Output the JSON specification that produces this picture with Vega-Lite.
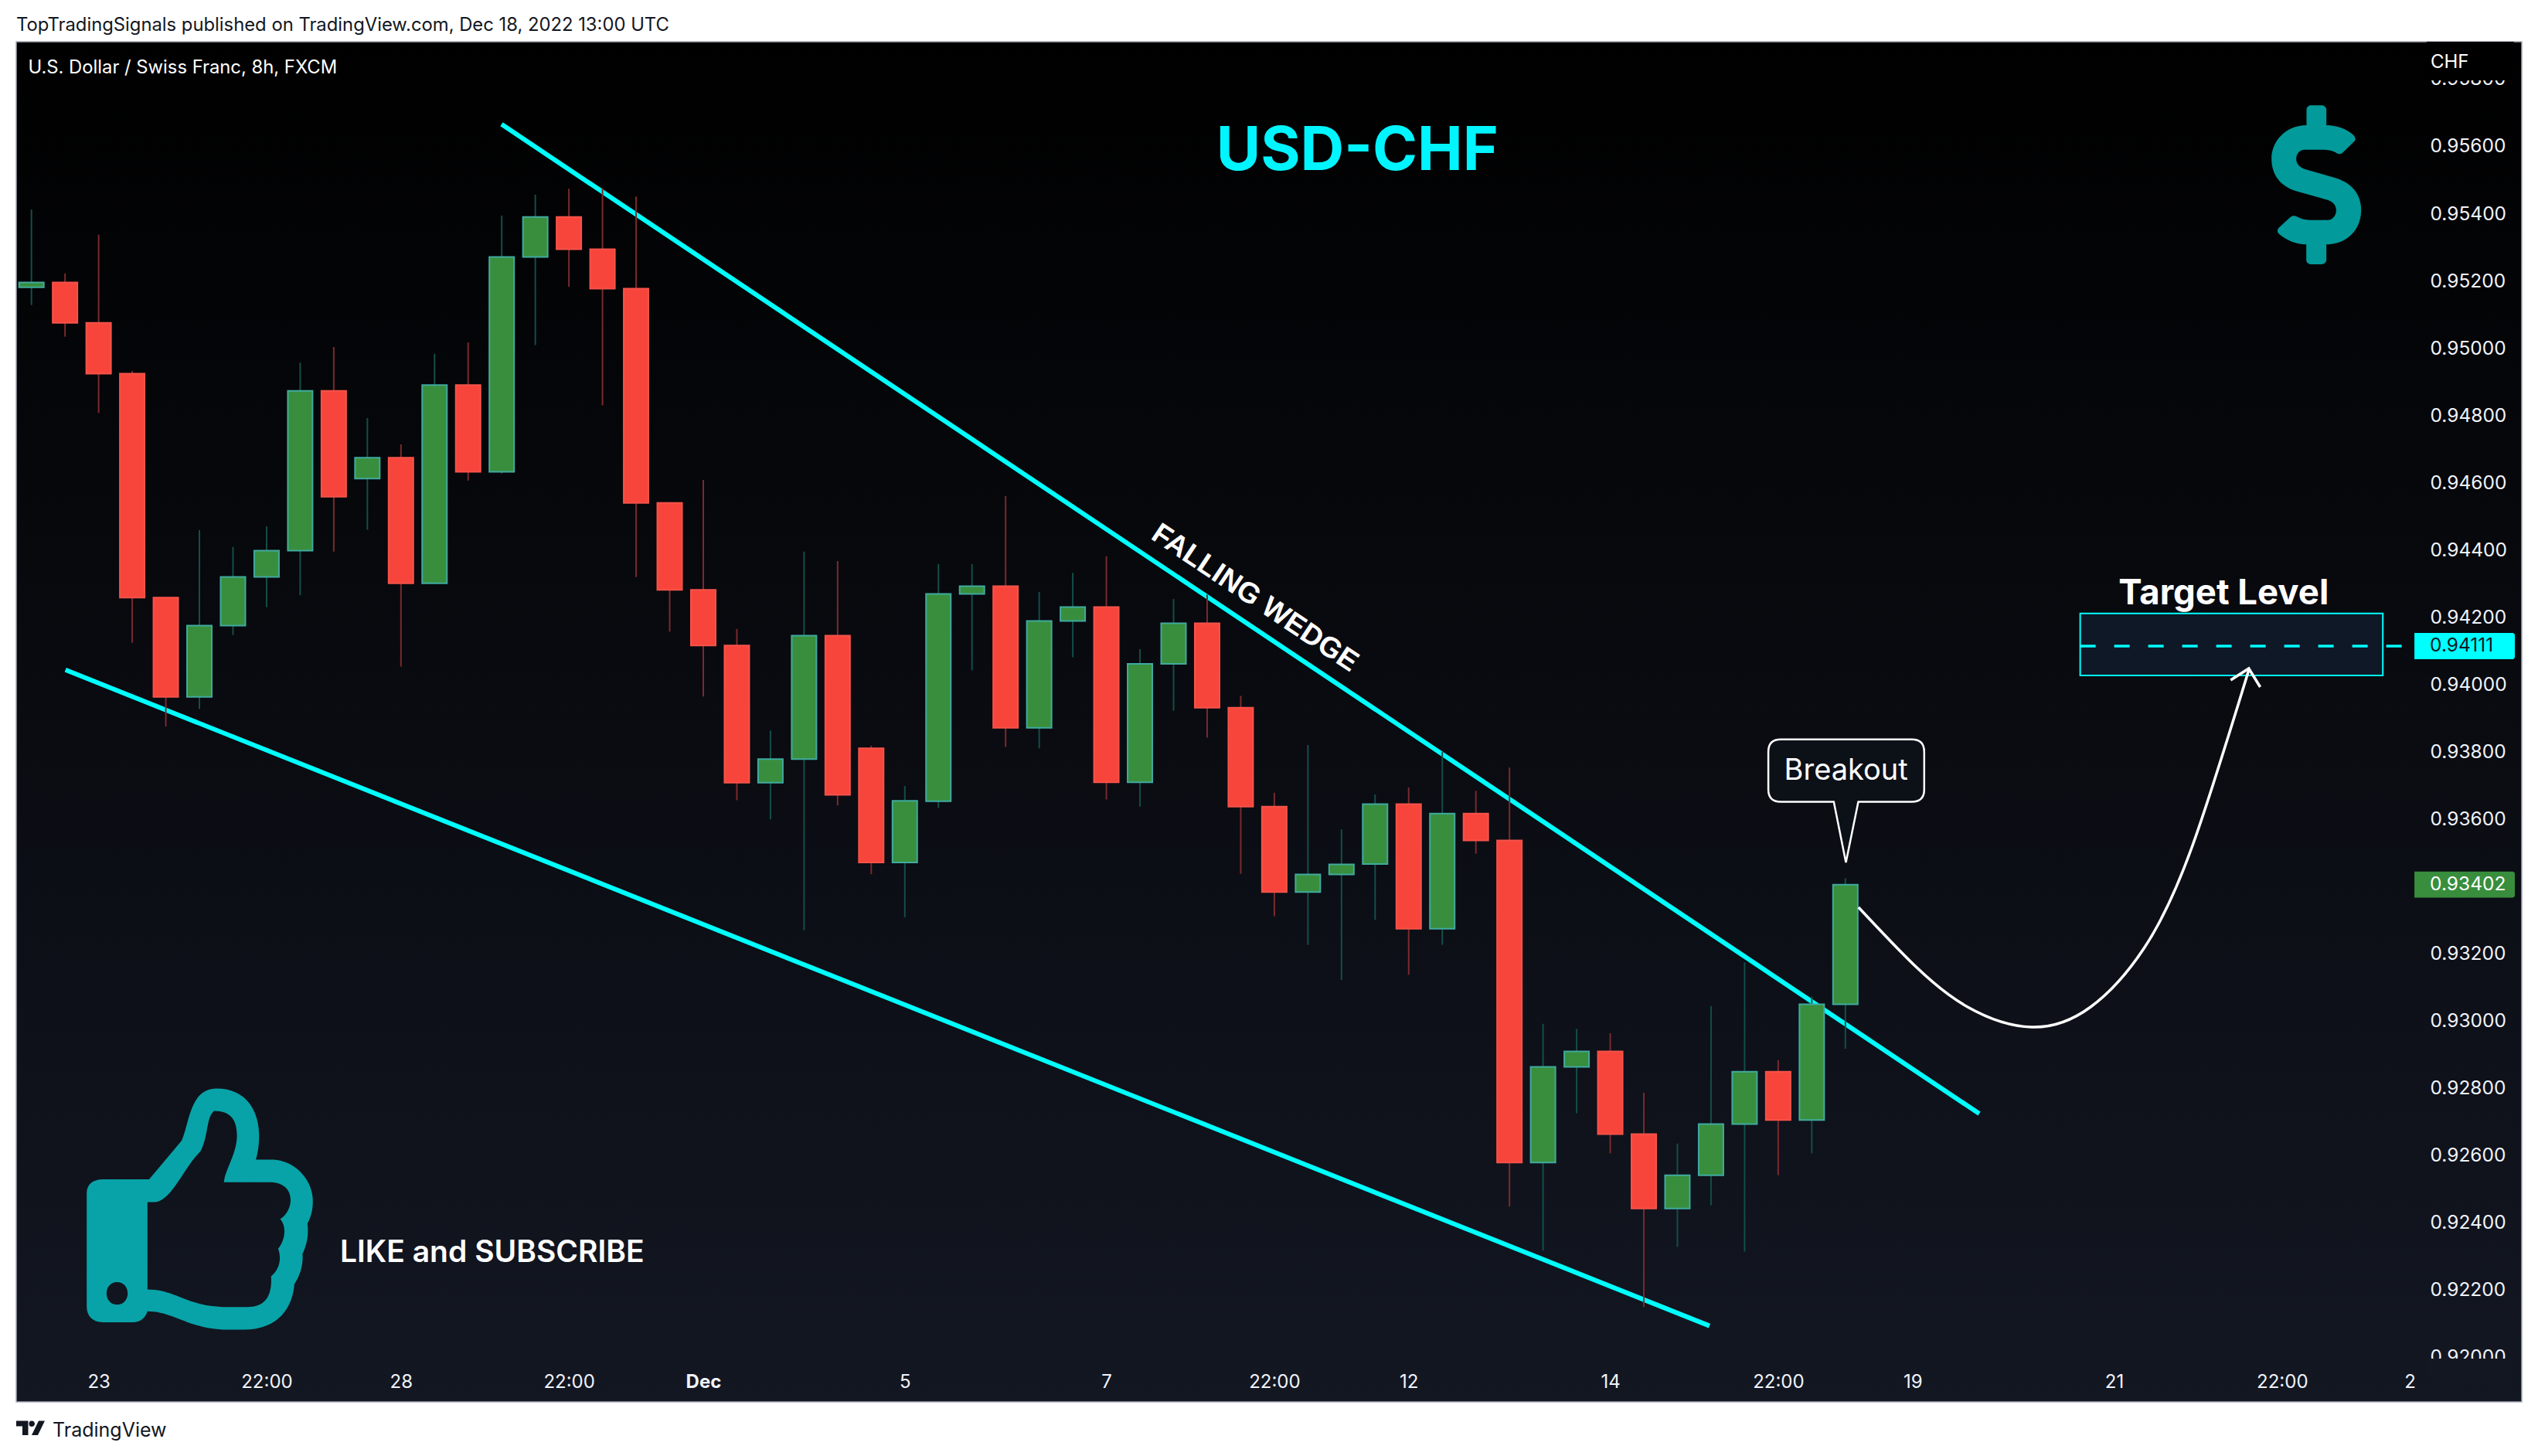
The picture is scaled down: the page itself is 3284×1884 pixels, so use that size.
{
"$schema":"https://vega.github.io/schema/vega-lite/v6.json",
"background":"#ffffff",
"autosize":{"type":"none"},
"padding":{"left":21,"top":54,"right":21,"bottom":70},
"width":3242,
"height":1760,
"title":{"text":"TopTradingSignals published on TradingView.com, Dec 18, 2022 13:00 UTC","anchor":"start","frame":"group","font":"Inter","fontSize":23.8,"fontWeight":400,"color":"#131722","offset":9},
"config":{"view":{"stroke":null}},
"view":{"stroke":"#a6a9b4","strokeWidth":1.5,"fill":{"gradient":"linear","x1":0,"y1":0,"x2":0,"y2":1,"stops":[{"offset":0,"color":"#000000"},{"offset":1,"color":"#131722"}]}},
"datasets":{
"candles":[
{"x":0,"open":0.95178,"high":0.95409,"low":0.95125,"close":0.95192,"dir":"up"},
{"x":1,"open":0.95192,"high":0.95219,"low":0.95031,"close":0.95072,"dir":"down"},
{"x":2,"open":0.95072,"high":0.95334,"low":0.94804,"close":0.94921,"dir":"down"},
{"x":3,"open":0.94921,"high":0.94929,"low":0.94121,"close":0.94255,"dir":"down"},
{"x":4,"open":0.94255,"high":0.94256,"low":0.93872,"close":0.9396,"dir":"down"},
{"x":5,"open":0.9396,"high":0.94456,"low":0.93924,"close":0.94172,"dir":"up"},
{"x":6,"open":0.94172,"high":0.94406,"low":0.94144,"close":0.94317,"dir":"up"},
{"x":7,"open":0.94317,"high":0.94467,"low":0.94227,"close":0.94395,"dir":"up"},
{"x":8,"open":0.94395,"high":0.94954,"low":0.94262,"close":0.9487,"dir":"up"},
{"x":9,"open":0.9487,"high":0.95,"low":0.94392,"close":0.94555,"dir":"down"},
{"x":10,"open":0.94609,"high":0.94789,"low":0.94457,"close":0.94671,"dir":"up"},
{"x":11,"open":0.94671,"high":0.94711,"low":0.9405,"close":0.94298,"dir":"down"},
{"x":12,"open":0.94298,"high":0.9498,"low":0.94298,"close":0.94887,"dir":"up"},
{"x":13,"open":0.94887,"high":0.95014,"low":0.94603,"close":0.94629,"dir":"down"},
{"x":14,"open":0.94629,"high":0.95391,"low":0.94624,"close":0.95268,"dir":"up"},
{"x":15,"open":0.95268,"high":0.95453,"low":0.95006,"close":0.95387,"dir":"up"},
{"x":16,"open":0.95387,"high":0.95471,"low":0.95179,"close":0.95291,"dir":"down"},
{"x":17,"open":0.95291,"high":0.95473,"low":0.94827,"close":0.95174,"dir":"down"},
{"x":18,"open":0.95174,"high":0.95448,"low":0.94316,"close":0.94537,"dir":"down"},
{"x":19,"open":0.94537,"high":0.94539,"low":0.94154,"close":0.94278,"dir":"down"},
{"x":20,"open":0.94278,"high":0.94605,"low":0.93961,"close":0.94113,"dir":"down"},
{"x":21,"open":0.94113,"high":0.94162,"low":0.93653,"close":0.93705,"dir":"down"},
{"x":22,"open":0.93705,"high":0.9386,"low":0.93596,"close":0.93775,"dir":"up"},
{"x":23,"open":0.93775,"high":0.94392,"low":0.93266,"close":0.94142,"dir":"up"},
{"x":24,"open":0.94142,"high":0.94364,"low":0.93637,"close":0.93669,"dir":"down"},
{"x":25,"open":0.93807,"high":0.93815,"low":0.93433,"close":0.93468,"dir":"down"},
{"x":26,"open":0.93468,"high":0.93695,"low":0.93305,"close":0.93651,"dir":"up"},
{"x":27,"open":0.9365,"high":0.94355,"low":0.9363,"close":0.94266,"dir":"up"},
{"x":28,"open":0.94266,"high":0.94355,"low":0.94039,"close":0.94289,"dir":"up"},
{"x":29,"open":0.94289,"high":0.94557,"low":0.93811,"close":0.93868,"dir":"down"},
{"x":30,"open":0.93868,"high":0.94272,"low":0.93807,"close":0.94186,"dir":"up"},
{"x":31,"open":0.94186,"high":0.94329,"low":0.94078,"close":0.94227,"dir":"up"},
{"x":32,"open":0.94227,"high":0.94378,"low":0.93655,"close":0.93706,"dir":"down"},
{"x":33,"open":0.93706,"high":0.94102,"low":0.93634,"close":0.94058,"dir":"up"},
{"x":34,"open":0.94058,"high":0.94251,"low":0.93919,"close":0.94179,"dir":"up"},
{"x":35,"open":0.94179,"high":0.94264,"low":0.93839,"close":0.93928,"dir":"down"},
{"x":36,"open":0.93928,"high":0.93963,"low":0.93434,"close":0.93634,"dir":"down"},
{"x":37,"open":0.93634,"high":0.93675,"low":0.93308,"close":0.9338,"dir":"down"},
{"x":38,"open":0.9338,"high":0.93817,"low":0.93223,"close":0.93432,"dir":"up"},
{"x":39,"open":0.93432,"high":0.93566,"low":0.93119,"close":0.93462,"dir":"up"},
{"x":40,"open":0.93463,"high":0.9367,"low":0.93297,"close":0.93641,"dir":"up"},
{"x":41,"open":0.93641,"high":0.93691,"low":0.93134,"close":0.93271,"dir":"down"},
{"x":42,"open":0.93271,"high":0.93797,"low":0.93223,"close":0.93613,"dir":"up"},
{"x":43,"open":0.93613,"high":0.93681,"low":0.93494,"close":0.93533,"dir":"down"},
{"x":44,"open":0.93533,"high":0.9375,"low":0.92445,"close":0.92576,"dir":"down"},
{"x":45,"open":0.92576,"high":0.92988,"low":0.92314,"close":0.9286,"dir":"up"},
{"x":46,"open":0.9286,"high":0.92973,"low":0.92722,"close":0.92906,"dir":"up"},
{"x":47,"open":0.92906,"high":0.9296,"low":0.92603,"close":0.9266,"dir":"down"},
{"x":48,"open":0.9266,"high":0.92783,"low":0.92146,"close":0.92439,"dir":"down"},
{"x":49,"open":0.92439,"high":0.92632,"low":0.92325,"close":0.92538,"dir":"up"},
{"x":50,"open":0.92538,"high":0.93041,"low":0.92449,"close":0.9269,"dir":"up"},
{"x":51,"open":0.9269,"high":0.93171,"low":0.92311,"close":0.92846,"dir":"up"},
{"x":52,"open":0.92846,"high":0.9288,"low":0.92538,"close":0.92702,"dir":"down"},
{"x":53,"open":0.92702,"high":0.93069,"low":0.92603,"close":0.93046,"dir":"up"},
{"x":54,"open":0.93046,"high":0.93421,"low":0.92914,"close":0.93402,"dir":"up"}
],
"wedge":[
{"line":"upper","x":13.995,"y":0.956624},{"line":"upper","x":57.985,"y":0.927211},
{"line":"lower","x":1.013,"y":0.940403},{"line":"lower","x":49.955,"y":0.920902}
],
"path":[
{"x":54.39,"y":0.933345},{"x":56.03,"y":0.931645},{"x":57.64,"y":0.930382},{"x":59.55,"y":0.929784},{"x":61.3,"y":0.930382},{"x":62.89,"y":0.932128},{"x":64.31,"y":0.935114},{"x":66.01,"y":0.940399}
]
},
"encoding":{
"x":{"field":"x","type":"quantitative","scale":{"domain":[-0.4532,74.136],"nice":false,"zero":false,"padding":0},
"axis":{"title":null,"orient":"bottom","offset":-38,"domain":false,"ticks":false,"grid":false,"labelPadding":0,"labelFont":"Inter","labelFontSize":24,"labelColor":"#f0f3fa","labelOverlap":false,"labelBound":false,"labelFlush":false,"zindex":1,
"values":[2,7,11,16,20,26,32,37,41,47,52,56,62,67,70.8],
"labelExpr":"{'2':'23','7':'22:00','11':'28','16':'22:00','20':'Dec','26':'5','32':'7','37':'22:00','41':'12','47':'14','52':'22:00','56':'19','62':'21','67':'22:00','70.8':'2'}[datum.value]",
"labelFontWeight":{"condition":{"test":"datum.value==20","value":700},"value":400}}},
"y":{"field":"y","type":"quantitative","scale":{"domain":[0.918641,0.959078],"nice":false,"zero":false},
"axis":{"title":null,"orient":"right","offset":-119,"domain":false,"ticks":false,"grid":false,"labelPadding":0,"labelOffset":2,"labelAlign":"left","labelFont":"Inter","labelFontSize":24.5,"labelColor":"#f0f3fa","labelOverlap":false,"labelBound":false,"labelFlush":false,"zindex":0,"format":".5f",
"values":[0.92,0.922,0.924,0.926,0.928,0.93,0.932,0.934,0.936,0.938,0.94,0.942,0.944,0.946,0.948,0.95,0.952,0.954,0.956,0.958]}}
},
"layer":[
{"data":{"values":[{"x":71.3,"x2":73.9,"y":0.959078,"y2":0.95793}]},"mark":{"type":"rect","fill":"#000000"},"encoding":{"x2":{"field":"x2"},"y2":{"field":"y2"}}},
{"data":{"values":[{"x":71.3,"x2":73.9,"y":0.919928,"y2":0.919308}]},"mark":{"type":"rect","fill":"#131722"},"encoding":{"x2":{"field":"x2"},"y2":{"field":"y2"}}},
{"data":{"values":[{"x":60.99,"x2":70.0,"y":0.94208,"y2":0.94024}]},"mark":{"type":"rect","fill":"#0e1827","stroke":"#00ffff","strokeWidth":2},"encoding":{"x2":{"field":"x2"},"y2":{"field":"y2"}}},
{"data":{"values":[{"x":60.99,"y":0.94111},{"x":70.57,"y":0.94111}]},"mark":{"type":"line","color":"#00ffff","strokeWidth":3.5,"strokeDash":[20,24]}},
{"data":{"name":"wedge"},"mark":{"type":"line","color":"#00ffff","strokeWidth":6},"encoding":{"detail":{"field":"line"}}},
{"data":{"name":"candles"},"mark":{"type":"rule","strokeWidth":2},"encoding":{
"y":{"field":"high","type":"quantitative","scale":{"domain":[0.918641,0.959078],"nice":false,"zero":false},
"axis":{"title":null,"orient":"right","offset":-119,"domain":false,"ticks":false,"grid":false,"labelPadding":0,"labelOffset":2,"labelAlign":"left","labelFont":"Inter","labelFontSize":24.5,"labelColor":"#f0f3fa","labelOverlap":false,"labelBound":false,"labelFlush":false,"zindex":0,"format":".5f",
"values":[0.92,0.922,0.924,0.926,0.928,0.93,0.932,0.934,0.936,0.938,0.94,0.942,0.944,0.946,0.948,0.95,0.952,0.954,0.956,0.958]}},
"y2":{"field":"low"},
"color":{"field":"dir","type":"nominal","scale":{"domain":["up","down"],"range":["#134e4a","#7a2a2e"]},"legend":null}}},
{"data":{"name":"candles"},"mark":{"type":"bar","size":32,"strokeWidth":2,"opacity":1},"encoding":{
"y":{"field":"open","type":"quantitative","scale":{"domain":[0.918641,0.959078],"nice":false,"zero":false},
"axis":{"title":null,"orient":"right","offset":-119,"domain":false,"ticks":false,"grid":false,"labelPadding":0,"labelOffset":2,"labelAlign":"left","labelFont":"Inter","labelFontSize":24.5,"labelColor":"#f0f3fa","labelOverlap":false,"labelBound":false,"labelFlush":false,"zindex":0,"format":".5f",
"values":[0.92,0.922,0.924,0.926,0.928,0.93,0.932,0.934,0.936,0.938,0.94,0.942,0.944,0.946,0.948,0.95,0.952,0.954,0.956,0.958]}},
"y2":{"field":"close"},
"fill":{"field":"dir","type":"nominal","scale":{"domain":["up","down"],"range":["#388e3c","#f7453b"]},"legend":null},
"stroke":{"field":"dir","type":"nominal","scale":{"domain":["up","down"],"range":["#40aaa0","#f5534a"]},"legend":null}}},
{"data":{"name":"path"},"mark":{"type":"line","color":"#ffffff","strokeWidth":3.5,"interpolate":"natural"}},
{"data":{"values":[{"x":65.47,"y":0.9401},{"x":66.01,"y":0.940445},{"x":66.35,"y":0.939893}]},"mark":{"type":"line","color":"#ffffff","strokeWidth":3.5}},
{"data":{"values":[{"x":70.94,"x2":73.93,"y":0.9415,"y2":0.94072}]},"mark":{"type":"rect","fill":"#00ffff","cornerRadiusTopRight":3,"cornerRadiusBottomRight":3},"encoding":{"x2":{"field":"x2"},"y2":{"field":"y2"}}},
{"data":{"values":[{"x":70.94,"x2":73.93,"y":0.93441,"y2":0.93363}]},"mark":{"type":"rect","fill":"#388e3c","cornerRadiusTopRight":3,"cornerRadiusBottomRight":3},"encoding":{"x2":{"field":"x2"},"y2":{"field":"y2"}}},
{"data":{"values":[{"x":71.4,"y":0.94111,"label":"0.94111"}]},"mark":{"type":"text","align":"left","baseline":"middle","font":"Inter","fontSize":24.5,"color":"#131722"},"encoding":{"text":{"field":"label"}}},
{"data":{"values":[{"x":71.4,"y":0.93402,"label":"0.93402"}]},"mark":{"type":"text","align":"left","baseline":"middle","font":"Inter","fontSize":24.5,"color":"#ffffff"},"encoding":{"text":{"field":"label"}}},
{"data":{"values":[{"x":71.42,"y":0.958464,"label":"CHF"}]},"mark":{"type":"text","align":"left","baseline":"middle","font":"Inter","fontSize":24,"color":"#ffffff"},"encoding":{"text":{"field":"label"}}},
{"data":{"values":[{"x":-0.097,"y":0.9583,"label":"U.S. Dollar / Swiss Franc, 8h, FXCM"}]},"mark":{"type":"text","align":"left","baseline":"middle","font":"Inter","fontSize":23.8,"color":"#ffffff"},"encoding":{"text":{"field":"label"}}},
{"data":{"values":[{"x":39.47,"y":0.955815,"label":"USD-CHF"}]},"mark":{"type":"text","align":"center","baseline":"middle","font":"Inter","fontSize":78.5,"fontWeight":700,"color":"#00f5ff"},"encoding":{"text":{"field":"label"}}},
{"data":{"values":[{"x":65.26,"y":0.94267,"label":"Target Level"}]},"mark":{"type":"text","align":"center","baseline":"middle","font":"Inter","fontSize":45.5,"fontWeight":700,"color":"#ffffff"},"encoding":{"text":{"field":"label"}}},
{"data":{"values":[{"x":36.42,"y":0.942535,"label":"FALLING WEDGE"}]},"mark":{"type":"text","align":"center","baseline":"middle","angle":33.8,"font":"Liberation Sans","fontSize":37.5,"fontWeight":700,"color":"#ffffff"},"encoding":{"text":{"field":"label"}}},
{"data":{"values":[{"x":9.187,"y":0.923066,"label":"LIKE and SUBSCRIBE"}]},"mark":{"type":"text","align":"left","baseline":"middle","font":"Inter","fontSize":39,"fontWeight":600,"color":"#ffffff"},"encoding":{"text":{"field":"label"}}},
{"data":{"values":[{"x":54.03,"y":0.936424}]},"mark":{"type":"point","filled":false,"size":4,"opacity":1,"fill":"#0c1017","fillOpacity":1,"stroke":"#ffffff","strokeWidth":2.5,"shape":"M-85,-83.3 L84.7,-83.3 Q100.7,-83.3 100.7,-67.3 L100.7,-18.5 Q100.7,-2.5 84.7,-2.5 L15.4,-2.5 L-0.6,76 L-16.3,-2.5 L-85,-2.5 Q-101,-2.5 -101,-18.5 L-101,-67.3 Q-101,-83.3 -85,-83.3 Z"}},
{"data":{"values":[{"x":54.02,"y":0.93738,"label":"Breakout"}]},"mark":{"type":"text","align":"center","baseline":"middle","font":"Inter","fontSize":38,"color":"#ffffff"},"encoding":{"text":{"field":"label"}}},
{"data":{"values":[{"x":68.02,"y":0.954827}]},"mark":{"type":"point","filled":true,"size":4,"opacity":1,"color":"#029a9b","shape":"M-12.7,-77 L-12.7,-97 C-12.7,-100 -10,-102.7 -7,-102.7 L7,-102.7 C10,-102.7 13,-100 13,-97 L13,-77 C26.3,-77 39.7,-72 48,-64.3 C51.3,-60.3 51.3,-58 49,-56 L34.7,-42 C31.3,-38.7 28,-39.3 24.7,-42 C19.7,-44.7 14.7,-45.3 9.7,-45.3 L-15.3,-45.3 C-22,-45.3 -26,-39.3 -26,-33.7 C-26,-27 -22,-22.7 -15.3,-20.3 L24.7,-8.7 C44.7,-2.7 58,11.3 58,33 C58,58 39.7,77.3 13,77.3 L13,97.3 C13,100.7 9.7,103 7,103 L-7,103 C-10.3,103 -13,100.7 -13,97.3 L-13,77.3 C-27,77.3 -38.7,71.3 -48,64 C-51,61.3 -51,58 -48,55.3 L-33.7,42 C-31,39.7 -27.7,39.7 -25.3,41.3 C-20.3,44 -15.3,45.7 -8.7,45.7 L14.7,45.7 C21.3,45.7 25.7,39.7 25.7,33 C25.7,26.3 21.3,22 14.7,19.7 L-27,8 C-45.3,2.3 -58,-12 -58,-33.7 C-58,-57 -38.7,-77 -12.7,-77 Z"}},
{"data":{"values":[{"x":5.011,"y":0.924362}]},"mark":{"type":"point","filled":true,"size":4,"opacity":1,"color":"#08a3a8","shape":"M-65.6,-38.9 L-23.5,-89 C-13,-112.8 -13,-156.4 22.1,-156.4 C60.7,-156.4 76.8,-126.4 76.8,-95.8 C76.8,-82.2 74.7,-71.9 72.6,-64.5 L92.3,-64.5 C123.8,-64.5 146.3,-37.9 146.3,-10.6 C146.3,3 142.8,11.5 139.3,18.3 C141.4,33.6 137.9,47.3 132.9,57.5 C134.3,71.1 129.4,86.4 122.4,96.6 C120.3,125.6 102.8,155.6 57.2,155.6 L36.1,155.6 C-13,155.6 -34,131.7 -67.7,131.7 C-70.5,140.9 -77.5,146 -86.6,146 L-125.2,146 C-139.2,146 -146.3,137.5 -146.3,125.6 L-146.3,-20.9 C-146.3,-32.8 -137.8,-38.9 -125.2,-38.9 Z M-67.7,-9.6 L-67.7,103.5 C-30.5,103.5 -16.5,126.3 36.1,126.3 L60.7,126.3 C85.2,126.3 93.7,112 92.3,86.4 C102.8,77.9 106.3,64.3 101.4,50.7 C109.8,40.5 113.3,23.4 104.2,12.2 C113.3,6.4 117.5,-3.8 117.5,-12.3 C117.5,-24.3 109.8,-34.5 92.3,-35.2 L31.2,-35.2 C32.6,-51.5 48.1,-71.9 48.1,-95.8 C48.1,-116.2 39.6,-127.5 18.6,-127.5 C8.1,-119.6 11.6,-95.8 1.1,-75.4 C-20,-55 -37.5,-9.6 -58.6,-9.6 Z M-107,93.9 C-125.2,93.9 -125.2,123.2 -107,123.2 C-88.7,123.2 -88.7,93.9 -107,93.9 Z"}},
{"data":{"values":[{"x":-0.028,"y":0.91786}]},"mark":{"type":"point","filled":true,"size":4,"opacity":1,"color":"#131722","shape":"M-18.5,-9.5 L-3,-9.5 L-3,9 L-10.5,9 L-10.5,-2.5 L-18.5,-2.5 Z M1.5,-9.5 C4,-9.5 5.5,-8 5.5,-5.8 C5.5,-3.6 4,-2 1.5,-2 C-1,-2 -2,-3.6 -2,-5.8 C-2,-8 -1,-9.5 1.5,-9.5 Z M10.5,-9.5 L18.5,-9.5 L9.5,9 L1.5,9 Z"}},
{"data":{"values":[{"x":0.628,"y":0.917798,"label":"TradingView"}]},"mark":{"type":"text","align":"left","baseline":"middle","font":"Inter","fontSize":25,"color":"#131722"},"encoding":{"text":{"field":"label"}}}
]
}
